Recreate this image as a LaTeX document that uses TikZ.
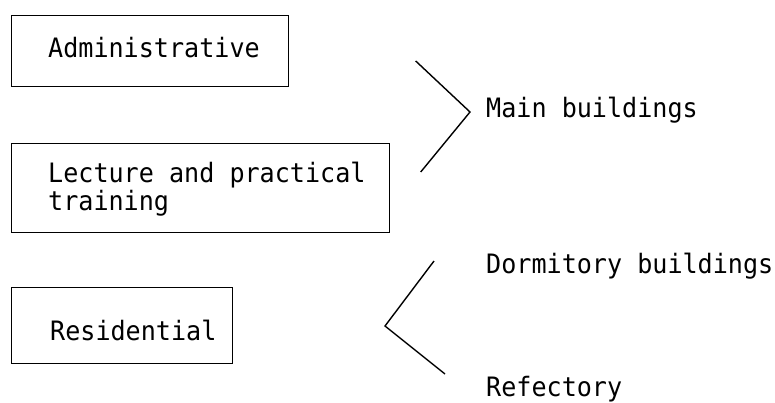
\documentclass[tikz,border=0pt]{standalone}
\usepackage{fontspec}
\newfontfamily\twfont[FakeStretch=0.94]{DejaVu Sans Mono}
\begin{document}
\begin{tikzpicture}[x=1pt,y=-1pt,
  box/.style={draw, line width=1.4pt, rectangle, anchor=north west, inner sep=0},
  lbl/.style={anchor=base west, inner sep=0, font=\twfont\fontsize{26.7}{27.5}\selectfont, align=left},
  brk/.style={line width=1.4pt, line join=miter}]
\useasboundingbox (0,0) rectangle (775,402);
% boxes
\node[box, minimum width=277, minimum height=71] (adm) at (11,15) {};
\node[box, minimum width=378, minimum height=89] (lec) at (11,143) {};
\node[box, minimum width=221, minimum height=76] (res) at (11,287) {};
% box texts
\node[lbl] (admT) at (48,57.7) {Administrative};
\node[lbl] (lecT) at (48,210.2) {Lecture and practical\\training};
\node[lbl] (resT) at (50,340) {Residential};
% right texts
\node[lbl] (main) at (486,117.7) {Main buildings};
\node[lbl] (dorm) at (486,273.3) {Dormitory buildings};
\node[lbl] (refe) at (486,396) {Refectory};
% brackets
\coordinate (b1a) at (415.7,61);
\coordinate (b1m) at (470,112);
\coordinate (b1b) at (420.7,172);
\coordinate (b2a) at (434,261);
\coordinate (b2m) at (385,326);
\coordinate (b2b) at (445,374);
\draw[brk] (b1a) -- (b1m) -- (b1b);
\draw[brk] (b2a) -- (b2m) -- (b2b);
\end{tikzpicture}
\end{document}
